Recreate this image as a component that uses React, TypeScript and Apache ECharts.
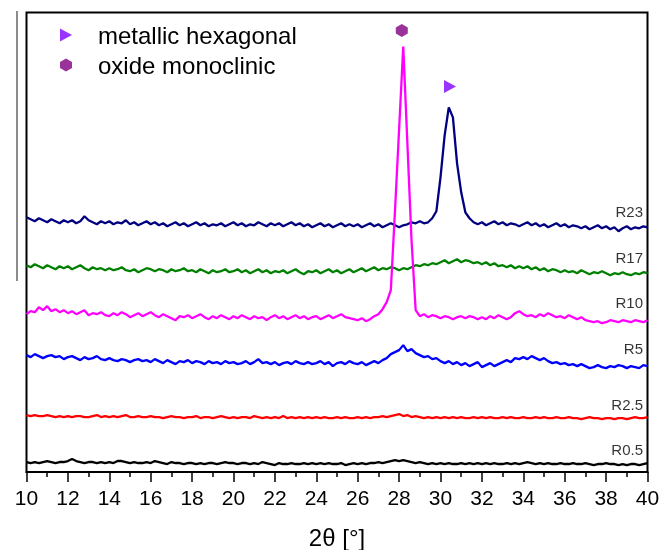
import React, { useEffect, useRef } from "react";
import * as echarts from "echarts";

// 2θ sampling grid: 10.0 .. 40.0, step 0.2 (151 points)
const THETA_START = 10;
const THETA_STEP = 0.2;
const THETA_COUNT = 151;
const theta: number[] = Array.from({ length: THETA_COUNT }, (_, i) => +(THETA_START + i * THETA_STEP).toFixed(1));

const xTicks = { min: 10, max: 40, interval: 2 };

// offset intensities (a.u.)
const R05 = [
  10, 9, 10, 9, 10, 11, 10, 9, 10, 10,
  11, 13, 11, 10, 9, 10, 10, 9, 10, 9,
  10, 9, 11, 11, 10, 9, 10, 9, 9, 10,
  9, 11, 10, 9, 8, 10, 9, 9, 8, 9,
  9, 8, 9, 8, 9, 9, 8, 9, 10, 9,
  9, 8, 9, 9, 8, 9, 8, 10, 9, 8,
  7, 9, 8, 8, 9, 8, 8, 9, 8, 9,
  8, 9, 8, 9, 8, 8, 9, 7, 8, 9,
  8, 9, 8, 9, 9, 10, 9, 10, 11, 12,
  11, 12, 11, 10, 9, 10, 9, 8, 9, 8,
  9, 8, 9, 8, 8, 9, 8, 9, 8, 9,
  8, 9, 8, 9, 8, 8, 9, 8, 9, 8,
  9, 10, 9, 8, 9, 8, 9, 8, 8, 9,
  8, 8, 9, 8, 8, 9, 8, 7, 8, 8,
  9, 8, 8, 7, 8, 7, 8, 8, 7, 8,
  9,
];
const R25 = [
  57, 56, 57, 56, 56, 57, 56, 55, 56, 55,
  56, 55, 56, 56, 55, 55, 56, 57, 55, 56,
  55, 56, 55, 56, 57, 55, 55, 56, 55, 55,
  56, 55, 55, 54, 55, 56, 55, 55, 54, 55,
  55, 56, 54, 55, 55, 54, 55, 56, 55, 54,
  55, 54, 55, 55, 54, 56, 55, 54, 55, 54,
  55, 54, 56, 54, 55, 54, 55, 54, 55, 54,
  55, 54, 55, 54, 54, 55, 54, 55, 54, 54,
  55, 54, 55, 54, 55, 55, 56, 55, 56, 57,
  58, 56, 57, 55, 56, 55, 54, 55, 54, 55,
  54, 55, 54, 55, 54, 55, 54, 54, 55, 54,
  55, 54, 55, 54, 54, 55, 54, 55, 54, 54,
  55, 54, 54, 55, 54, 55, 54, 54, 55, 54,
  54, 55, 54, 54, 53, 54, 55, 54, 54, 53,
  54, 54, 53, 54, 54, 53, 54, 55, 54, 54,
  55,
];
const R5 = [
  117, 115, 118, 116, 114, 116, 117, 115, 116, 113,
  115, 116, 114, 112, 115, 113, 114, 116, 113, 112,
  114, 112, 111, 113, 112, 110, 112, 113, 111, 112,
  110, 113, 111, 109, 112, 110, 108, 111, 110, 112,
  109, 111, 110, 108, 111, 109, 110, 108, 111, 109,
  110, 108, 109, 111, 108, 110, 113, 109, 110, 108,
  110, 107, 109, 110, 108, 111, 109, 108, 110, 108,
  109, 111, 108, 110, 106, 109, 110, 108, 111, 109,
  108, 110, 107, 109, 111, 109, 112, 114, 118, 120,
  122, 127, 121, 123, 119, 117, 115, 116, 113, 114,
  111, 109, 111, 108, 110, 107, 109, 106, 108, 110,
  105, 107, 109, 106, 108, 110, 112, 110, 114, 113,
  115, 113, 116, 114, 112, 114, 111, 109, 110, 108,
  109, 107, 108, 106, 108, 106, 104, 105, 107, 105,
  104, 106, 105, 107, 106, 104, 106, 105, 104, 107,
  106,
];
const R10 = [
  158, 161, 160, 165, 162, 166, 161, 163, 160, 162,
  159, 161, 158, 160, 162, 157, 159, 158, 160, 157,
  156, 159, 157, 160, 158, 155, 157, 159, 156, 158,
  160, 157, 155, 158, 156, 154, 152, 156, 155, 157,
  154, 156, 158, 155, 153, 156, 154, 157, 155, 153,
  156, 154, 157, 155, 153, 156, 154, 155, 152, 155,
  157, 154, 156, 153, 155, 157, 154, 156, 153, 155,
  156, 153, 155, 157, 154, 156, 158, 155, 154, 153,
  152, 154, 151, 153, 156, 158, 163, 170, 182, 261,
  343, 426, 329, 232, 162, 156, 158, 155, 157, 156,
  154, 156, 155, 153, 155, 156, 154, 156, 155, 153,
  155, 153, 156, 154, 157, 155, 153, 155, 159, 161,
  158, 156, 157, 155, 158, 156, 159, 157, 155, 156,
  154, 157, 155, 153, 155, 152, 151, 150, 151, 149,
  150, 152, 151, 150, 152, 151, 150, 152, 151, 150,
  152,
];
const R17 = [
  207, 205, 208, 206, 204, 207, 205, 203, 206, 204,
  206, 203, 205, 207, 204, 202, 205, 203, 204, 202,
  204, 202, 203, 205, 202, 201, 203, 200, 202, 204,
  203, 201, 203, 202, 200, 203, 201, 202, 204, 201,
  202, 200, 203, 201, 199, 202, 200, 201, 203, 200,
  201, 203, 200, 202, 199, 201, 203, 200, 202, 199,
  201, 200, 202, 199, 201, 203, 200, 198, 201, 200,
  202, 199, 201, 203, 200, 202, 199, 201, 203, 200,
  202, 204, 201, 203, 205, 202, 204, 203, 205, 204,
  202, 204, 203, 205, 207, 206, 208, 207, 209, 208,
  210, 212, 209, 211, 213, 210, 212, 211, 209, 210,
  208, 210, 207, 209, 206, 207, 205, 207, 204, 206,
  204, 206, 203, 205, 202, 204, 201, 203, 202, 200,
  202, 200, 201, 199, 202, 200, 198, 200, 199, 201,
  199, 197, 199, 198, 200, 198, 197, 199, 198, 200,
  199,
];
const R23 = [
  255, 253, 251, 254, 252, 250, 253, 251, 249, 252,
  250, 252, 249, 251, 256, 252, 250, 248, 251, 249,
  251, 248, 250, 249, 252, 248, 250, 247, 249, 251,
  248, 250, 247, 249, 246, 248, 250, 247, 249, 246,
  248, 250, 247, 249, 246, 248, 247, 249, 246, 248,
  250, 247, 249, 246, 248, 247, 250, 248, 246, 249,
  247, 249, 246, 248, 250, 247, 249, 246, 248, 245,
  247, 249, 246, 248, 245, 247, 249, 246, 248, 246,
  248, 245, 247, 249, 246, 248, 245, 247, 249, 247,
  245, 247, 248, 250, 249, 251, 249, 250, 254, 261,
  295, 337, 365, 355, 309, 280, 260, 254, 250, 248,
  250, 247, 249, 251, 248, 250, 247, 249, 248, 246,
  248, 250, 247, 249, 246, 248, 245, 247, 249, 246,
  248, 245, 247, 246, 244, 246, 243, 245, 247, 244,
  246, 243, 245, 241, 244, 246, 243, 245, 244, 246,
  245,
];

const sampleNames = ["R0.5", "R2.5", "R5", "R23", "R17", "R10"];
const sampleData = [R05, R25, R5, R23, R17, R10];
const sampleColors = ["#000000", "#ff0000", "#0000ff", "#000080", "#008000", "#ff00ff"];
// label anchor (right end) heights in same units
const labelTheta = 40;
const labelLevels = [23, 68, 124, 261, 215, 170];

// phase markers
const phaseNames = ["metallic hexagonal", "oxide monoclinic"];
const phaseTheta = [30.46, 28.13];
const phaseLevel = [386, 442];
const phaseColors = ["#8000ff", "#800080"];
const TRI = "path://M0,0L12,6.5L0,13Z";
const HEX = "path://M6,0L12,3.5L12,9.5L6,13L0,9.5L0,3.5Z";
const phaseSymbols = [TRI, HEX];

const FONT = "'Liberation Sans', Arial, sans-serif";

export default function App() {
  const ref = useRef<HTMLDivElement>(null);
  useEffect(() => {
    if (!ref.current) return;
    const chart = echarts.init(ref.current, undefined, { renderer: "svg" });
    const lineSeries = sampleNames.map((name, k) => ({
      name,
      type: "line",
      data: theta.map((t, i) => [t, sampleData[k][i]]),
      showSymbol: false,
      symbol: "none",
      lineStyle: { color: sampleColors[k], width: 2.3 },
      itemStyle: { color: sampleColors[k] },
      z: 2,
    }));
    const phaseSeries = phaseNames.map((name, k) => ({
      name,
      type: "scatter",
      data: [[phaseTheta[k], phaseLevel[k]]],
      symbol: phaseSymbols[k],
      symbolSize: [12, 13],
      itemStyle: { color: phaseColors[k] },
      z: 5,
    }));
    const labelSeries = {
      name: "labels",
      type: "scatter",
      data: sampleNames.map((n, k) => [labelTheta, labelLevels[k], n]),
      symbolSize: 1,
      itemStyle: { color: "rgba(0,0,0,0)" },
      clip: false,
      label: {
        show: true,
        position: "left",
        distance: 4,
        formatter: (p: any) => p.data[2],
        fontFamily: FONT,
        fontSize: 15,
        color: "#000",
      },
      z: 6,
    };
    chart.setOption({
      animation: false,
      textStyle: { fontFamily: FONT },
      grid: {
        left: 26.5,
        top: 12.5,
        right: 22.5,
        bottom: 78,
        show: true,
        borderColor: "#000",
        borderWidth: 2,
        containLabel: false,
        outerBoundsMode: "none",
      },
      legend: {
        data: phaseNames.map((n, k) => ({ name: n, icon: phaseSymbols[k], itemStyle: { color: phaseColors[k] } })),
        orient: "vertical",
        left: 55,
        top: 18,
        itemWidth: 12,
        itemHeight: 13,
        itemGap: 6,
        textStyle: { fontFamily: FONT, fontSize: 24, color: "#000", padding: [0, 0, 0, 21] },
        selectedMode: false,
      },
      xAxis: {
        type: "value",
        min: xTicks.min,
        max: xTicks.max,
        interval: xTicks.interval,
        name: "2θ [°]",
        nameLocation: "middle",
        nameGap: 53,
        nameTextStyle: { fontFamily: FONT, fontSize: 24, color: "#000" },
        axisLine: { show: true, lineStyle: { color: "#000", width: 2 } },
        axisTick: { show: true, length: 10, lineStyle: { color: "#000", width: 1.5 } },
        minorTick: { show: true, splitNumber: 2, length: 5, lineStyle: { color: "#000", width: 1.5 } },
        axisLabel: { fontFamily: FONT, fontSize: 21, color: "#000", margin: 15 },
        splitLine: { show: false },
      },
      yAxis: {
        type: "value",
        min: 0,
        max: 460,
        show: false,
        splitLine: { show: false },
      },
      graphic: [
        {
          type: "line",
          shape: { x1: 17, y1: 11, x2: 17, y2: 281 },
          style: { stroke: "#8c8c8c", lineWidth: 2 },
        },
      ],
      series: [...lineSeries, ...phaseSeries, labelSeries],
    });
    return () => chart.dispose();
  }, []);
  return <div ref={ref} style={{ position: "fixed", left: 0, top: 0, width: 670, height: 550 }} />;
}
